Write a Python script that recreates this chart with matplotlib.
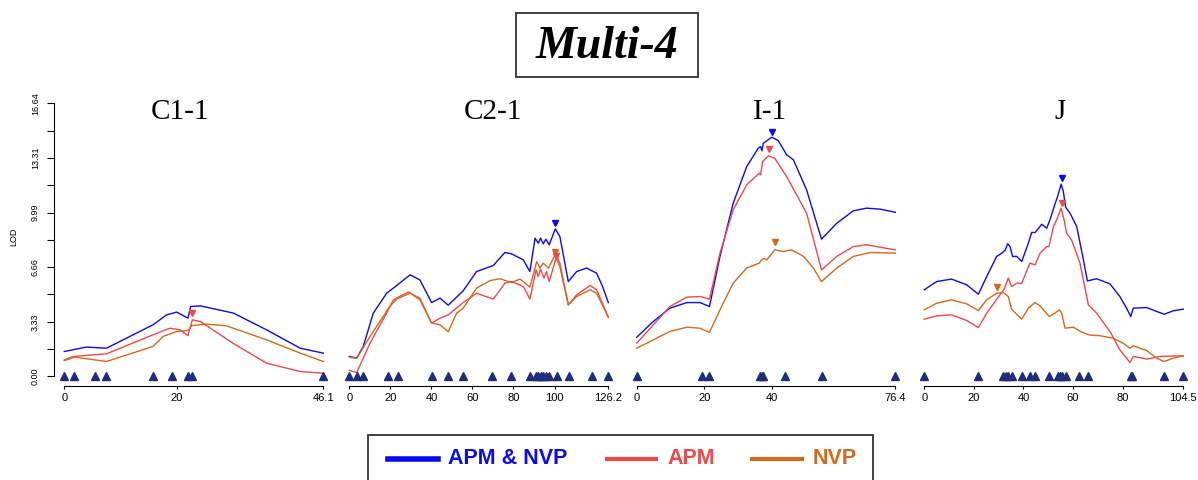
import matplotlib.pyplot as plt
import matplotlib.patches as patches
from matplotlib.lines import Line2D

# ---- data ----
chrom_names = ['C1-1', 'C2-1', 'I-1', 'J']
chrom_len = [46.1, 126.2, 76.4, 104.5]
xticks = [[0, 20, 46.1],
          [0, 20, 40, 60, 80, 100, 126.2],
          [0, 20, 40, 76.4],
          [0, 20, 40, 60, 80, 104.5]]

# C1-1
c1_pos_blue = [0, 3.9, 7.5, 15.8, 18.2, 20, 22, 22.5, 24.2, 30.1, 36, 42, 46.1]
c1_lod_blue = [1.52, 1.79, 1.72, 3.15, 3.75, 3.92, 3.55, 4.26, 4.3, 3.86, 2.84, 1.72, 1.42]
c1_pos_red = [0, 1.6, 7.5, 15.8, 18.8, 20.6, 22, 22.8, 24.2, 30, 36, 42, 46.1]
c1_lod_red = [1.01, 1.22, 1.38, 2.54, 2.94, 2.84, 2.48, 3.45, 3.35, 2.03, 0.81, 0.30, 0.2]
c1_pos_orange = [0, 1.9, 7.5, 15.8, 17.6, 20, 22, 22.7, 25.3, 28.9, 36, 42, 46.1]
c1_lod_orange = [0.97, 1.18, 0.91, 1.83, 2.44, 2.74, 2.8, 3.1, 3.19, 3.08, 2.23, 1.42, 0.91]
c1_markers = [0, 1.7, 5.5, 7.5, 15.8, 19.2, 22.1, 22.8, 46.1]

# C2-1
c2_pos_blue = [0, 3.6, 6.8, 11.7, 18.2, 23.1, 29.6, 34.4, 40.1, 44.2, 48.2, 55.5, 62, 70.2,
               75.8, 79, 84.8, 88, 90.5, 92.1, 93.2, 94.5, 95.8, 97.4, 100.4, 102.6, 106.7,
               110.8, 115.6, 120.5, 123.4, 126.2]
c2_lod_blue = [1.22, 1.12, 1.83, 3.86, 5.07, 5.54, 6.19, 5.88, 4.5, 4.77, 4.34, 5.22, 6.39, 6.76,
               7.55, 7.47, 7.1, 6.39, 8.42, 8.12, 8.42, 8.08, 8.36, 8.02, 8.99, 8.52, 5.78,
               6.39, 6.6, 6.29, 5.48, 4.5]
c2_pos_red = [0, 3.6, 10.1, 18.2, 21.5, 28.9, 34.4, 40.1, 44.2, 48.2, 55.5, 62, 70.2, 75.8,
              79, 84.8, 88, 91, 92.1, 93.2, 94.8, 96.1, 97.4, 100.7, 102.6, 106.7, 110.8,
              117.3, 120.5, 126.2]
c2_lod_red = [0.37, 0.24, 2.03, 3.86, 4.67, 5.15, 4.67, 3.25, 3.55, 3.75, 4.5, 5.07, 4.71, 5.68,
              5.78, 5.48, 4.71, 6.49, 6.09, 6.53, 5.99, 6.39, 5.78, 7.2, 6.7, 4.36, 4.97,
              5.54, 5.28, 3.61]
c2_pos_orange = [0, 3.6, 10.1, 19.7, 23.1, 29.6, 34.4, 40.1, 44.2, 48.2, 52.3, 55.5, 62, 68.6,
                 73.5, 79, 83.2, 88, 91.3, 92.9, 94.5, 97, 100.7, 102.6, 106.7, 110.8, 117.3,
                 120.5, 126.2]
c2_lod_orange = [1.18, 1.1, 2.44, 4.26, 4.71, 5.07, 4.77, 3.25, 3.15, 2.72, 3.86, 4.16, 5.38, 5.84,
                 5.95, 5.72, 5.93, 5.44, 7.0, 6.6, 6.9, 6.6, 7.51, 6.9, 4.36, 4.87, 5.28,
                 5.07, 3.61]
c2_markers = [0, 3.6, 6.8, 19.0, 23.6, 40.4, 48.2, 55.2, 69.7, 78.8, 88.0, 90.8, 92.1, 93.2,
              94.5, 95.8, 97.4, 101.0, 106.9, 118.1, 126.2]

# I-1
i1_pos_blue = [0, 4.9, 9.8, 14.8, 18.7, 21.5, 24.6, 28.5, 32.5, 35.9, 36.6, 37, 37.4, 39.9,
               41.8, 44.3, 46.3, 50.2, 54.6, 59.1, 64, 67.9, 71.9, 76.4]
i1_lod_blue = [2.39, 3.35, 4.16, 4.5, 4.5, 4.26, 7.31, 10.55, 12.78, 13.9, 14.0, 13.74, 14.2, 14.57,
               14.37, 13.5, 13.19, 11.36, 8.36, 9.33, 10.09, 10.25, 10.19, 10.0]
i1_pos_red = [0, 4.9, 9.8, 14.8, 18.7, 21.5, 24.6, 28.5, 32.5, 36.2, 36.6, 37.2, 38.9, 40.8,
              44.3, 50.2, 54.6, 59.1, 64, 67.9, 71.9, 76.4]
i1_lod_red = [2.03, 3.14, 4.26, 4.83, 4.87, 4.71, 7.51, 10.15, 11.67, 12.38, 12.28, 13.09, 13.43,
              13.29, 12.17, 9.94, 6.49, 7.31, 7.91, 8.02, 7.87, 7.71]
i1_pos_orange = [0, 4.9, 9.8, 14.8, 18.7, 21.5, 24.6, 28.5, 32.5, 36.2, 36.9, 37.6, 38.4, 40.8,
                 43.3, 45.8, 49.3, 52.2, 54.6, 59.1, 64, 69, 76.4]
i1_lod_orange = [1.72, 2.23, 2.74, 3.0, 2.94, 2.68, 4.06, 5.68, 6.6, 6.9, 7.1, 7.2, 7.1, 7.71,
                 7.61, 7.71, 7.31, 6.6, 5.78, 6.6, 7.31, 7.55, 7.51]
i1_markers = [0, 19.2, 21.5, 36.4, 36.9, 37.4, 43.8, 54.6, 76.4]

# J
j_pos_blue = [0, 5, 11, 17.1, 21.8, 25.2, 29.2, 31.6, 32.7, 33.6, 34.6, 35.6, 37.3, 39.3, 42,
              43.3, 44.7, 47.4, 49.4, 50.7, 52.7, 53.7, 55.2, 56.1, 57, 58.8, 61.5, 64.2, 65.8,
              69.5, 74.9, 78.9, 81.6, 83.3, 84.3, 89.7, 93.7, 96.8, 100.5, 104.5]
j_lod_blue = [5.28, 5.78, 5.93, 5.58, 5.01, 6.09, 7.31, 7.55, 7.71, 8.08, 7.91, 7.31, 7.31, 7.0, 8.12,
              8.77, 8.77, 9.27, 9.03, 9.54, 10.49, 10.92, 11.71, 11.26, 10.31, 9.94, 9.13, 7.1, 5.82,
              5.95, 5.64, 4.87, 4.16, 3.65, 4.16, 4.2, 3.96, 3.79, 4.0, 4.1]
j_pos_red = [0, 5, 11, 17.1, 21.8, 25.2, 30.5, 32.1, 33.9, 35.2, 37.3, 39.3, 42.6, 44.7, 46.7,
             49.4, 50.3, 52.1, 53.4, 55.2, 56.4, 57.4, 59.4, 62.8, 66.2, 69.5, 74.9, 78.9, 83,
             84.3, 89.7, 95.1, 104.5]
j_lod_red = [3.49, 3.69, 3.75, 3.41, 2.98, 3.86, 4.97, 5.28, 5.99, 5.48, 5.68, 5.68, 6.9, 6.8, 7.51,
             7.91, 7.91, 9.13, 9.54, 10.25, 9.54, 8.73, 8.32, 6.9, 4.36, 3.86, 2.74, 1.62, 0.85,
             1.22, 1.06, 1.22, 1.26]
j_pos_orange = [0, 5, 11, 17.1, 21.8, 25.2, 29.2, 31.9, 33.9, 35.2, 39.3, 42, 44.7, 46.7, 50.4,
                52.7, 54.5, 55.4, 56.8, 60.1, 63.5, 66.8, 70.9, 76.2, 80.2, 83, 84.3, 89.7, 93.7,
                96.7, 100.5, 104.5]
j_lod_orange = [4.06, 4.46, 4.67, 4.42, 4.02, 4.67, 5.07, 5.11, 4.87, 4.1, 3.49, 4.16, 4.5, 4.3, 3.65,
                3.86, 4.06, 3.86, 2.94, 3.0, 2.7, 2.52, 2.48, 2.33, 2.03, 1.72, 1.87, 1.58, 1.12,
                0.91, 1.12, 1.26]
j_markers = [0, 21.8, 31.6, 32.9, 33.9, 35.2, 39.3, 42.6, 44.7, 50.3, 54.1, 54.7, 55.4, 57,
             62.4, 65.9, 83.3, 83.9, 96.8, 104.5]

# peak markers: (position, LOD) per chromosome, per trait; None = no peak shown
peak_blue = [None, (100.4, 9.37), (40.1, 14.9), (55.4, 12.07)]
peak_red = [(22.7, 3.86), (100.7, 7.35), (39.1, 13.86), (55.4, 10.55)]
peak_orange = [None, (100.4, 7.6), (41.0, 8.16), (29.2, 5.44)]

yticks = [0.00, 3.33, 6.66, 9.99, 13.31, 16.64]

series = [
    ((c1_pos_blue, c1_lod_blue), (c1_pos_red, c1_lod_red), (c1_pos_orange, c1_lod_orange), c1_markers),
    ((c2_pos_blue, c2_lod_blue), (c2_pos_red, c2_lod_red), (c2_pos_orange, c2_lod_orange), c2_markers),
    ((i1_pos_blue, i1_lod_blue), (i1_pos_red, i1_lod_red), (i1_pos_orange, i1_lod_orange), i1_markers),
    ((j_pos_blue, j_lod_blue), (j_pos_red, j_lod_red), (j_pos_orange, j_lod_orange), j_markers),
]

BLUE = '#0a0af5'
RED = '#f04848'
ORANGE = '#d2691e'
NAVY = '#1f2d7a'

W, H = 1198, 480
fig = plt.figure(figsize=(W / 100, H / 100), dpi=100)

# panel pixel extents (x=0 .. x=chromosome end)
px_left = [64.3, 349.3, 636.7, 924.3]
px_right = [323.3, 608.3, 895.3, 1183.3]
ax_bottom = (H - 385.5) / H
ax_top = (H - 89.1) / H
ylim = (-0.55, 17.5)

title_x = [180, 493, 770, 1060]

for i in range(4):
    ax = fig.add_axes([px_left[i] / W, ax_bottom,
                       (px_right[i] - px_left[i]) / W, ax_top - ax_bottom])
    (bx, by), (rx, ry), (ox, oy), mk = series[i]
    ax.plot(bx, by, color=BLUE, lw=1.0, clip_on=False)
    ax.plot(rx, ry, color=RED, lw=1.0, clip_on=False)
    ax.plot(ox, oy, color=ORANGE, lw=1.0, clip_on=False)
    ax.plot(mk, [0] * len(mk), ls='none', marker='^', ms=5.5, color=NAVY,
            mec=NAVY, clip_on=False)
    for pk, col in ((peak_orange[i], ORANGE), (peak_red[i], RED), (peak_blue[i], BLUE)):
        if pk is not None:
            ax.plot([pk[0]], [pk[1]], ls='none', marker='v', ms=5, color=col, clip_on=False)
    ax.set_xlim(0, chrom_len[i])
    ax.set_ylim(*ylim)
    for s in ('top', 'right'):
        ax.spines[s].set_visible(False)
    ax.spines['bottom'].set_linewidth(0.8)
    ax.set_xticks(xticks[i])
    ax.set_xticklabels([('%g' % t) for t in xticks[i]], fontsize=8, family='Liberation Sans')
    ax.tick_params(axis='x', length=2.5, width=0.8, pad=3)
    if i == 0:
        ax.spines['left'].set_position(('outward', 7.5))
        ax.spines['left'].set_bounds(0, 16.64)
        ax.spines['left'].set_linewidth(0.8)
        ax.set_yticks([k * 1.664 for k in range(11)], minor=False)
        ax.set_yticklabels([('%.2f' % yticks[k // 2]) if k % 2 == 0 else '' for k in range(11)],
                           fontsize=6.5, rotation=90, va='center', family='Liberation Sans')
        ax.tick_params(axis='y', length=5, width=0.8, pad=5)
        ax.set_ylabel('LOD', fontsize=6.5, family='Liberation Sans', labelpad=9)
    else:
        ax.spines['left'].set_visible(False)
        ax.set_yticks([])
    fig.text(title_x[i] / W, 1 - 112 / H, chrom_names[i], ha='center', va='center',
             fontsize=21, family='Liberation Serif')

# title box
fig.patches.append(patches.Rectangle((516 / W, 1 - 77 / H), 182 / W, 64 / H,
                                     transform=fig.transFigure, fill=False,
                                     edgecolor='#333333', lw=1.3))
fig.text(607 / W, 1 - 47 / H, 'Multi-4', ha='center', va='center', fontsize=33,
         family='Liberation Serif', fontweight='bold', style='italic')

# legend box
fig.patches.append(patches.Rectangle((368 / W, -0.05), 505 / W, (H - 435) / H + 0.05,
                                     transform=fig.transFigure, fill=False,
                                     edgecolor='#333333', lw=1.3))
leg_items = [('APM & NVP', BLUE, 388, 438, 448, 4.0),
             ('APM', RED, 607, 656, 667, 3.0),
             ('NVP', ORANGE, 752, 802, 813, 3.0)]
ly = 1 - 459 / H
for label, col, x0, x1, xt, lw in leg_items:
    fig.lines.append(Line2D([x0 / W, x1 / W], [ly, ly], color=col, lw=lw,
                            transform=fig.transFigure))
    fig.text(xt / W, ly, label, color=col, fontsize=15.5, fontweight='bold',
             family='Liberation Sans', ha='left', va='center')

fig.savefig('out.png', dpi=100)
